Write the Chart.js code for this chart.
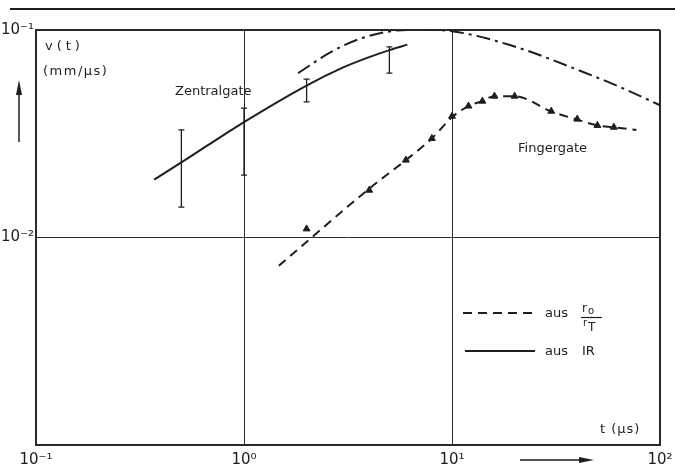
<!DOCTYPE html>
<html>
<head>
<meta charset="utf-8">
<script src="https://cdn.jsdelivr.net/npm/chart.js@4"></script>
<style>
  html, body { margin: 0; padding: 0; background: #fff; }
  #wrap { width: 675px; height: 472px; position: relative; }
</style>
</head>
<body>
<div id="wrap"><canvas id="grafica"></canvas></div>
<script>
// Zentralgate, aus IR (durchgezogen)
const irT = [0.37, 0.5, 1, 2, 3, 4, 5, 6.1];
const irV = [0.019, 0.023, 0.036, 0.054, 0.066, 0.074, 0.080, 0.085];

// Fehlerbalken am Zentralgate
const errT = [0.5, 1, 2, 5];
const errLo = [0.014, 0.020, 0.045, 0.062];
const errHi = [0.033, 0.042, 0.058, 0.083];

// Strichpunkt-Kurve oben
const dpT = [1.82, 2.6, 3.7, 6.1, 7.8, 9.8, 19, 43, 66, 100];
const dpV = [0.062, 0.078, 0.0915, 0.1, 0.1, 0.099, 0.0846, 0.0626, 0.0525, 0.0434];

// Fingergate, aus r0/rT (gestrichelt)
const fgT = [1.47, 4, 6, 8, 10, 12, 14, 16, 20, 30, 40, 50, 60, 77];
const fgV = [0.0073, 0.0172, 0.0236, 0.030, 0.038, 0.043, 0.0455, 0.048, 0.048, 0.0405, 0.037, 0.0347, 0.034, 0.033];

// Messpunkte (Dreiecke)
const ptT = [2, 4, 6, 8, 10, 12, 14, 16, 20, 30, 40, 50, 60];
const ptV = [0.011, 0.0169, 0.0236, 0.030, 0.0384, 0.043, 0.0454, 0.048, 0.048, 0.0406, 0.0372, 0.0347, 0.034];

// Achsen
const xTicks = [0.1, 1, 10, 100];
const xLabels = ['10⁻¹', '10⁰', '10¹', '10²'];
const yTicks = [0.001, 0.01, 0.1];
const yLabels = ['', '10⁻²', '10⁻¹'];

const ink = '#1e1e1e';
const pts = (xs, ys) => xs.map((x, i) => ({ x: x, y: ys[i] }));

const deko = {
  id: 'deko',
  afterDatasetsDraw(chart) {
    const { ctx, scales } = chart;
    ctx.save();
    ctx.strokeStyle = ink;
    ctx.lineWidth = 1.3;
    errT.forEach((t, i) => {
      const x = scales.x.getPixelForValue(t);
      const y1 = scales.y.getPixelForValue(errLo[i]);
      const y2 = scales.y.getPixelForValue(errHi[i]);
      ctx.beginPath();
      ctx.moveTo(x, y1); ctx.lineTo(x, y2);
      ctx.moveTo(x - 3, y1); ctx.lineTo(x + 3, y1);
      ctx.moveTo(x - 3, y2); ctx.lineTo(x + 3, y2);
      ctx.stroke();
    });
    ctx.restore();
  },
  afterDraw(chart) {
    const ctx = chart.ctx;
    ctx.save();
    ctx.strokeStyle = ink;
    ctx.fillStyle = ink;

    // Linie oben
    ctx.lineWidth = 2;
    ctx.beginPath(); ctx.moveTo(10, 9); ctx.lineTo(675, 9); ctx.stroke();

    // Pfeil y
    ctx.lineWidth = 1.5;
    ctx.beginPath(); ctx.moveTo(19, 142); ctx.lineTo(19, 92); ctx.stroke();
    ctx.beginPath(); ctx.moveTo(19, 80); ctx.lineTo(16, 95); ctx.lineTo(22, 95); ctx.closePath(); ctx.fill();

    // Pfeil x
    ctx.beginPath(); ctx.moveTo(520, 460); ctx.lineTo(582, 460); ctx.stroke();
    ctx.beginPath(); ctx.moveTo(594, 460); ctx.lineTo(579, 457); ctx.lineTo(579, 463); ctx.closePath(); ctx.fill();

    // Beschriftungen
    ctx.textBaseline = 'middle';
    ctx.textAlign = 'left';
    ctx.font = '13px "DejaVu Sans"';
    ctx.letterSpacing = '4px';
    ctx.fillText('v(t)', 45, 47);
    ctx.letterSpacing = '1.5px';
    ctx.fillText('(mm/μs)', 43, 72);
    ctx.letterSpacing = '1px';
    ctx.fillText('t (μs)', 600, 430);
    ctx.letterSpacing = '0px';
    ctx.fillText('Zentralgate', 175, 92);
    ctx.fillText('Fingergate', 518, 149);

    // Legende
    ctx.lineWidth = 2;
    ctx.setLineDash([9, 6]);
    ctx.beginPath(); ctx.moveTo(463, 313); ctx.lineTo(533, 313); ctx.stroke();
    ctx.setLineDash([]);
    ctx.beginPath(); ctx.moveTo(465, 351); ctx.lineTo(535, 351); ctx.stroke();
    ctx.fillText('aus', 545, 314);
    ctx.fillText('aus', 545, 352);
    ctx.fillText('IR', 582, 352);

    ctx.textBaseline = 'alphabetic';
    ctx.font = '12px "DejaVu Sans"';
    ctx.fillText('r', 582, 312);
    ctx.font = '10px "DejaVu Sans"';
    ctx.fillText('o', 588, 314);
    ctx.fillText('r', 583, 326);
    ctx.font = '12px "DejaVu Sans"';
    ctx.fillText('T', 588, 331);
    ctx.lineWidth = 1.2;
    ctx.beginPath(); ctx.moveTo(581, 317.5); ctx.lineTo(602, 317.5); ctx.stroke();
    ctx.restore();
  }
};

const kante = (c, ticks) => (c.tick && c.tick.value === ticks[ticks.length - 1]) ? 2 : 1;

new Chart(document.getElementById('grafica'), {
  type: 'line',
  data: {
    datasets: [
      {
        label: 'aus IR',
        data: pts(irT, irV),
        borderColor: ink, borderWidth: 2,
        pointRadius: 0, cubicInterpolationMode: 'monotone', fill: false
      },
      {
        label: 'Strichpunkt',
        data: pts(dpT, dpV),
        borderColor: ink, borderWidth: 2, borderDash: [14, 5, 3, 5],
        pointRadius: 0, cubicInterpolationMode: 'monotone', fill: false
      },
      {
        label: 'aus r0/rT',
        data: pts(fgT, fgV),
        borderColor: ink, borderWidth: 2, borderDash: [9, 6],
        pointRadius: 0, cubicInterpolationMode: 'monotone', fill: false
      },
      {
        label: 'Messpunkte',
        data: pts(ptT, ptV),
        showLine: false,
        pointStyle: 'triangle', pointRadius: 4,
        pointBackgroundColor: ink, pointBorderColor: ink, pointBorderWidth: 1
      }
    ]
  },
  options: {
    responsive: true,
    maintainAspectRatio: false,
    animation: false,
    layout: { padding: { top: 30, right: 15, left: 0, bottom: 0 } },
    plugins: { legend: { display: false }, tooltip: { enabled: false } },
    scales: {
      x: {
        type: 'logarithmic', min: 0.1, max: 100,
        afterBuildTicks: s => { s.ticks = xTicks.map(v => ({ value: v })); },
        afterFit: s => { s.height = 27; s.paddingLeft = 0; s.paddingRight = 0; },
        grid: { color: '#2a2a2a', lineWidth: c => kante(c, xTicks), drawTicks: false },
        border: { color: '#2a2a2a', width: 2 },
        ticks: {
          callback: (v, i) => xLabels[i],
          font: { family: 'DejaVu Sans', size: 15 }, color: ink,
          padding: 6, maxRotation: 0, autoSkip: false
        }
      },
      y: {
        type: 'logarithmic', min: 0.001, max: 0.1,
        afterBuildTicks: s => { s.ticks = yTicks.map(v => ({ value: v })); },
        afterFit: s => { s.width = 36; s.paddingTop = 0; s.paddingBottom = 0; },
        grid: { color: '#2a2a2a', lineWidth: c => kante(c, yTicks), drawTicks: false },
        border: { color: '#2a2a2a', width: 2 },
        ticks: {
          callback: (v, i) => yLabels[i],
          font: { family: 'DejaVu Sans', size: 15 }, color: ink,
          padding: 2, autoSkip: false
        }
      }
    }
  },
  plugins: [deko]
});
</script>
</body>
</html>
